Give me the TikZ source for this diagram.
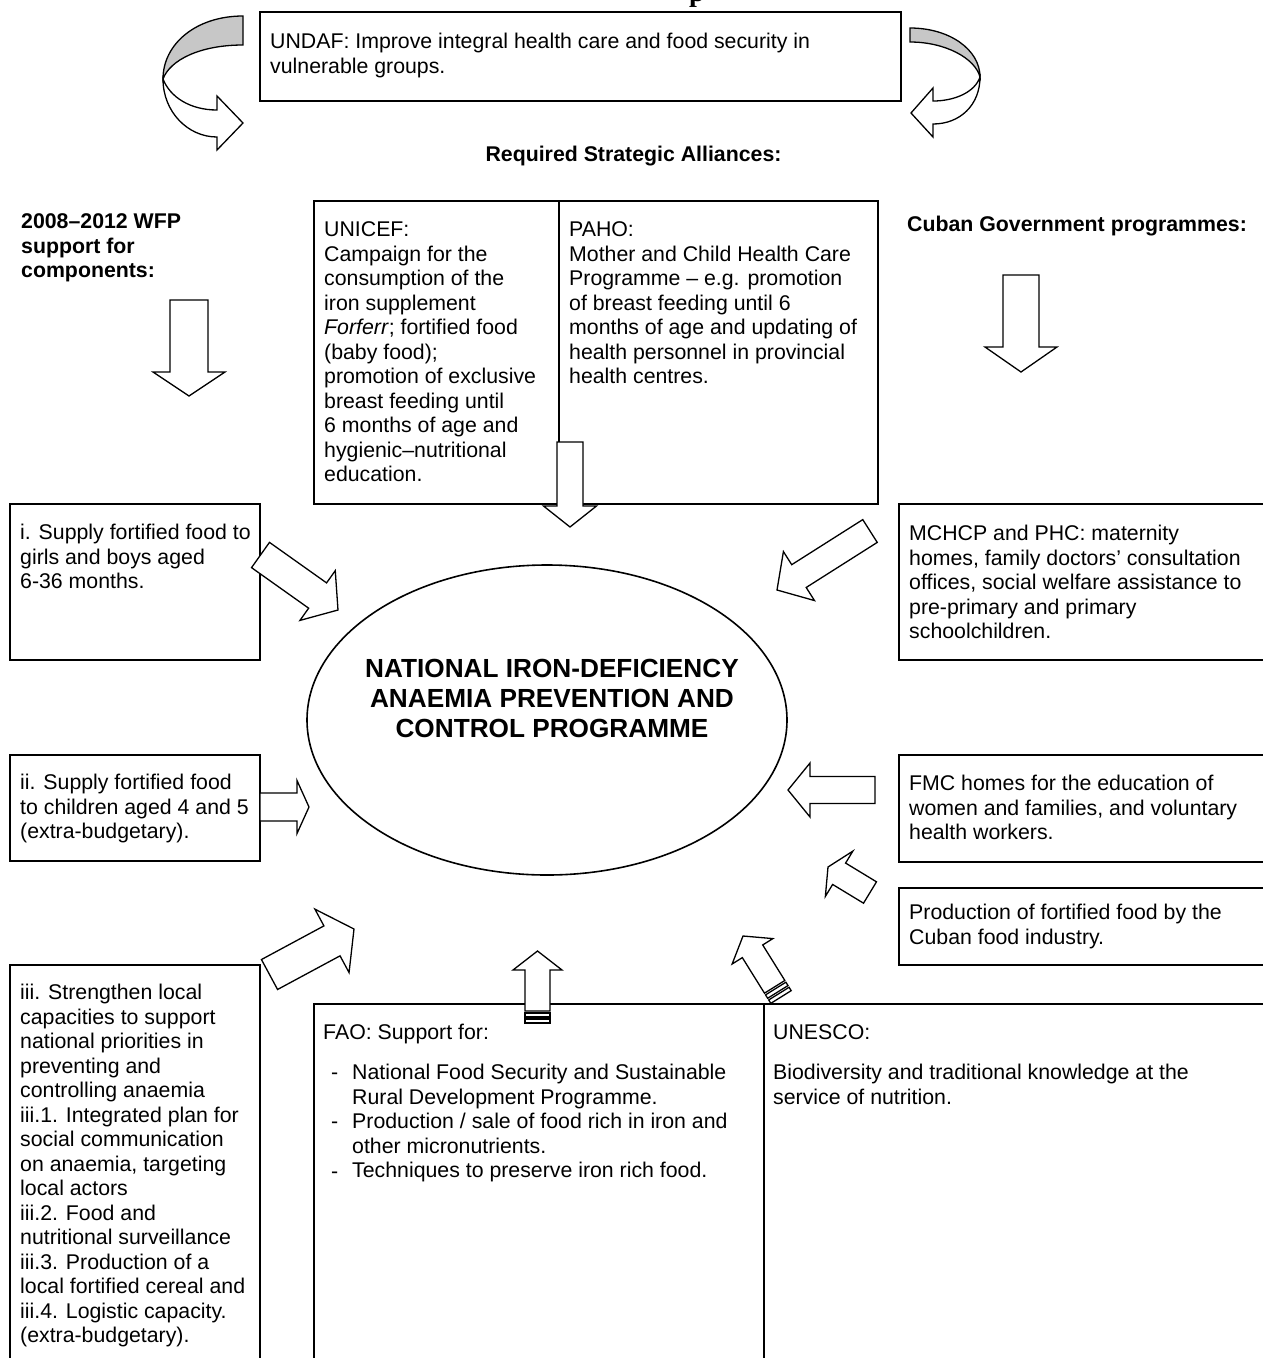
\documentclass[tikz,border=0pt]{standalone}
\usepackage{fontspec}
\setmainfont{Liberation Sans}
\newfontfamily\serifbf{Liberation Serif}
\usetikzlibrary{calc,shapes.geometric}
\tikzset{
  box/.style={draw=black, line width=2.2pt},
  body/.style={anchor=north west, inner sep=0pt, align=left, font=\fontsize{21.3pt}{24.5pt}\selectfont},
  bhead/.style={anchor=north west, inner sep=0pt, align=left, font=\fontsize{21.3pt}{24.5pt}\selectfont\bfseries},
  barrow/.style={draw=black, fill=white, line width=1.3pt, line join=miter},
  carrow/.style={draw=black, line width=1.3pt, line join=miter},
}
\newcommand\St{\rule{0pt}{17pt}}
\newcommand\BlockArr[5]{%
  \coordinate (#1-base) at ($(#2)!#5pt!(#1)$);
  \draw[barrow] ($(#1)!#3pt!90:(#2)$) -- ($(#1-base)!#3pt!-90:(#1)$) -- ($(#1-base)!#4pt!-90:(#1)$) -- (#2) -- ($(#1-base)!#4pt!90:(#1)$) -- ($(#1-base)!#3pt!90:(#1)$) -- ($(#1)!#3pt!-90:(#2)$) -- cycle;}
\newcommand\StripeArr[5]{%
  \coordinate (#1-s1) at ($(#1)!4pt!(#2)$);
  \coordinate (#1-s2) at ($(#1)!6pt!(#2)$);
  \coordinate (#1-s3) at ($(#1)!10pt!(#2)$);
  \coordinate (#1-st) at ($(#1)!12pt!(#2)$);
  \draw[barrow] ($(#1)!#3pt!90:(#2)$) -- ($(#1-s1)!#3pt!-90:(#1)$) -- ($(#1-s1)!#3pt!90:(#1)$) -- ($(#1)!#3pt!-90:(#2)$) -- cycle;
  \draw[barrow] ($(#1-s2)!#3pt!90:(#2)$) -- ($(#1-s3)!#3pt!-90:(#1)$) -- ($(#1-s3)!#3pt!90:(#1)$) -- ($(#1-s2)!#3pt!-90:(#2)$) -- cycle;
  \BlockArr{#1-st}{#2}{#3}{#4}{#5}}
\begin{document}
\begin{tikzpicture}[x=1pt,y=-1pt]
\useasboundingbox (0,0) rectangle (1263,1358);
\clip (0,0) rectangle (1263,1358);
\fill[white] (0,0) rectangle (1263,1358);

% title fragment
\node[anchor=base west, inner sep=0pt, font=\serifbf\bfseries\fontsize{28pt}{30pt}\selectfont] (ttl) at (689,1) {p};

% boxes
\draw[box] (260,12) rectangle (901,101);
\draw[box] (314,201) rectangle (878,504);
\draw[box] (559,201) -- (559,504);
\draw[box] (10,504) rectangle (260,660);
\draw[box] (899,504) rectangle (1280,660);
\draw[box] (10,755) rectangle (260,861);
\draw[box] (899,755) rectangle (1280,862);
\draw[box] (899,888) rectangle (1280,965);
\draw[box] (10,965) rectangle (260,1380);
\draw[box] (314,1004) rectangle (764,1380);
\draw[box] (764,1004) rectangle (1280,1380);

% central ellipse
\node[draw, ellipse, line width=1.6pt, minimum width=480pt, minimum height=310pt, inner sep=0pt] (prog) at (547,720) {};

% curved arrows
\filldraw[carrow, fill=black!22] (243,16) .. controls (196,16) and (163,44) .. (163,79) .. controls (170,60) and (200,45) .. (243,45) -- cycle;
\filldraw[carrow, fill=white] (163,79) .. controls (163,112) and (188,137) .. (217,137) -- (217,150) -- (243,123) -- (217,96) -- (217,110) .. controls (190,110) and (170,97) .. (163,79) -- cycle;
\filldraw[carrow, fill=black!22] (910,28) .. controls (950,28) and (980,50) .. (980,77) .. controls (975,58) and (945,42) .. (910,42) -- cycle;
\filldraw[carrow, fill=white] (980,77) .. controls (980,105) and (960,124) .. (933,124) -- (933,137) -- (911,113) -- (933,88) -- (933,101) .. controls (955,101) and (975,92) .. (980,77) -- cycle;

% block arrows
\coordinate (wfpT) at (189,300); \coordinate (wfpP) at (189,396);
\BlockArr{wfpT}{wfpP}{19}{36}{24}
\coordinate (cubT) at (1021,275); \coordinate (cubP) at (1021,372);
\BlockArr{cubT}{cubP}{18}{36}{25}
\coordinate (uniT) at (570,442); \coordinate (uniP) at (570,527);
\BlockArr{uniT}{uniP}{13}{26.5}{21}
\coordinate (aiT) at (260.5,555); \coordinate (aiP) at (338,610);
\BlockArr{aiT}{aiP}{15.5}{30.5}{25}
\coordinate (amcT) at (870,531); \coordinate (amcP) at (777,590);
\BlockArr{amcT}{amcP}{13.5}{29}{26}
\coordinate (aiiT) at (260,807); \coordinate (aiiP) at (309,807);
\BlockArr{aiiT}{aiiP}{14}{26.5}{12}
\coordinate (afmcT) at (875,790); \coordinate (afmcP) at (788,790);
\BlockArr{afmcT}{afmcP}{13.5}{27}{22}
\coordinate (aprT) at (870,892.5); \coordinate (aprP) at (828,867);
\BlockArr{aprT}{aprP}{12.5}{26.5}{13}
\coordinate (aiiiT) at (269.5,974.5); \coordinate (aiiiP) at (354,929);
\BlockArr{aiiiT}{aiiiP}{17}{36}{25}
\coordinate (faoT) at (537.5,1023); \coordinate (faoP) at (537.5,951);
\StripeArr{faoT}{faoP}{12.5}{24.5}{19}
\coordinate (unT) at (781,997); \coordinate (unP) at (743,936);
\StripeArr{unT}{unP}{12}{24}{18}

% texts
\node[body] (tundaf) at (270,31.5) {\St UNDAF: Improve integral health care and food security in\\vulnerable groups.};
\node[bhead, anchor=north] (treq) at (633.5,144.5) {\St Required Strategic Alliances:};
\node[bhead] (twfp) at (21,211.5) {\St 2008–2012 WFP\\support for\\components:};
\node[bhead] (tcub) at (907,214.5) {\St Cuban Government programmes:};
\node[body] (tunicef) at (324,219.5) {\St UNICEF:\\Campaign for the\\consumption of the\\iron supplement\\\textit{Forferr}; fortified food\\(baby food);\\promotion of exclusive\\breast feeding until\\6 months of age and\\hygienic–nutritional\\education.};
\node[body] (tpaho) at (569,219.5) {\St PAHO:\\Mother and Child Health Care\\Programme – e.g. promotion\\of breast feeding until 6\\months of age and updating of\\health personnel in provincial\\health centres.};
\node[body] (ti) at (20,522.5) {\St i. Supply fortified food to\\girls and boys aged\\6-36 months.};
\node[body] (tmch) at (909,523.5) {\St MCHCP and PHC: maternity\\homes, family doctors’ consultation\\offices, social welfare assistance to\\pre-primary and primary\\schoolchildren.};
\node[anchor=north, inner sep=0pt, align=center, font=\fontsize{26.2pt}{30pt}\selectfont\bfseries] (tprog) at (552,657.4) {\rule{0pt}{20pt}NATIONAL IRON-DEFICIENCY\\ANAEMIA PREVENTION AND\\CONTROL PROGRAMME};
\node[body] (tii) at (20,772.5) {\St ii. Supply fortified food\\to children aged 4 and 5\\(extra-budgetary).};
\node[body] (tfmc) at (909,773.5) {\St FMC homes for the education of\\women and families, and voluntary\\health workers.};
\node[body] (tprod) at (909,902.5) {\St Production of fortified food by the\\Cuban food industry.};
\node[body] (tiii) at (20,982.5) {\St iii. Strengthen local\\capacities to support\\national priorities in\\preventing and\\controlling anaemia\\iii.1. Integrated plan for\\social communication\\on anaemia, targeting\\local actors\\iii.2. Food and\\nutritional surveillance\\iii.3. Production of a\\local fortified cereal and\\iii.4. Logistic capacity.\\(extra-budgetary).};
\node[body] (tfao) at (323,1022.5) {\St FAO: Support for:};
\node[body] (tfd1) at (331,1062.5) {\St -};
\node[body] (tfd2) at (331,1111.5) {\St -};
\node[body] (tfd3) at (331,1161.5) {\St -};
\node[body] (tfaoi) at (352,1062.5) {\St National Food Security and Sustainable\\Rural Development Programme.\\Production / sale of food rich in iron and\\other micronutrients.\\Techniques to preserve iron rich food.};
\node[body] (tunesco) at (773,1022.5) {\St UNESCO:};
\node[body] (tunesco2) at (773,1062.5) {\St Biodiversity and traditional knowledge at the\\service of nutrition.};
\end{tikzpicture}
\end{document}
